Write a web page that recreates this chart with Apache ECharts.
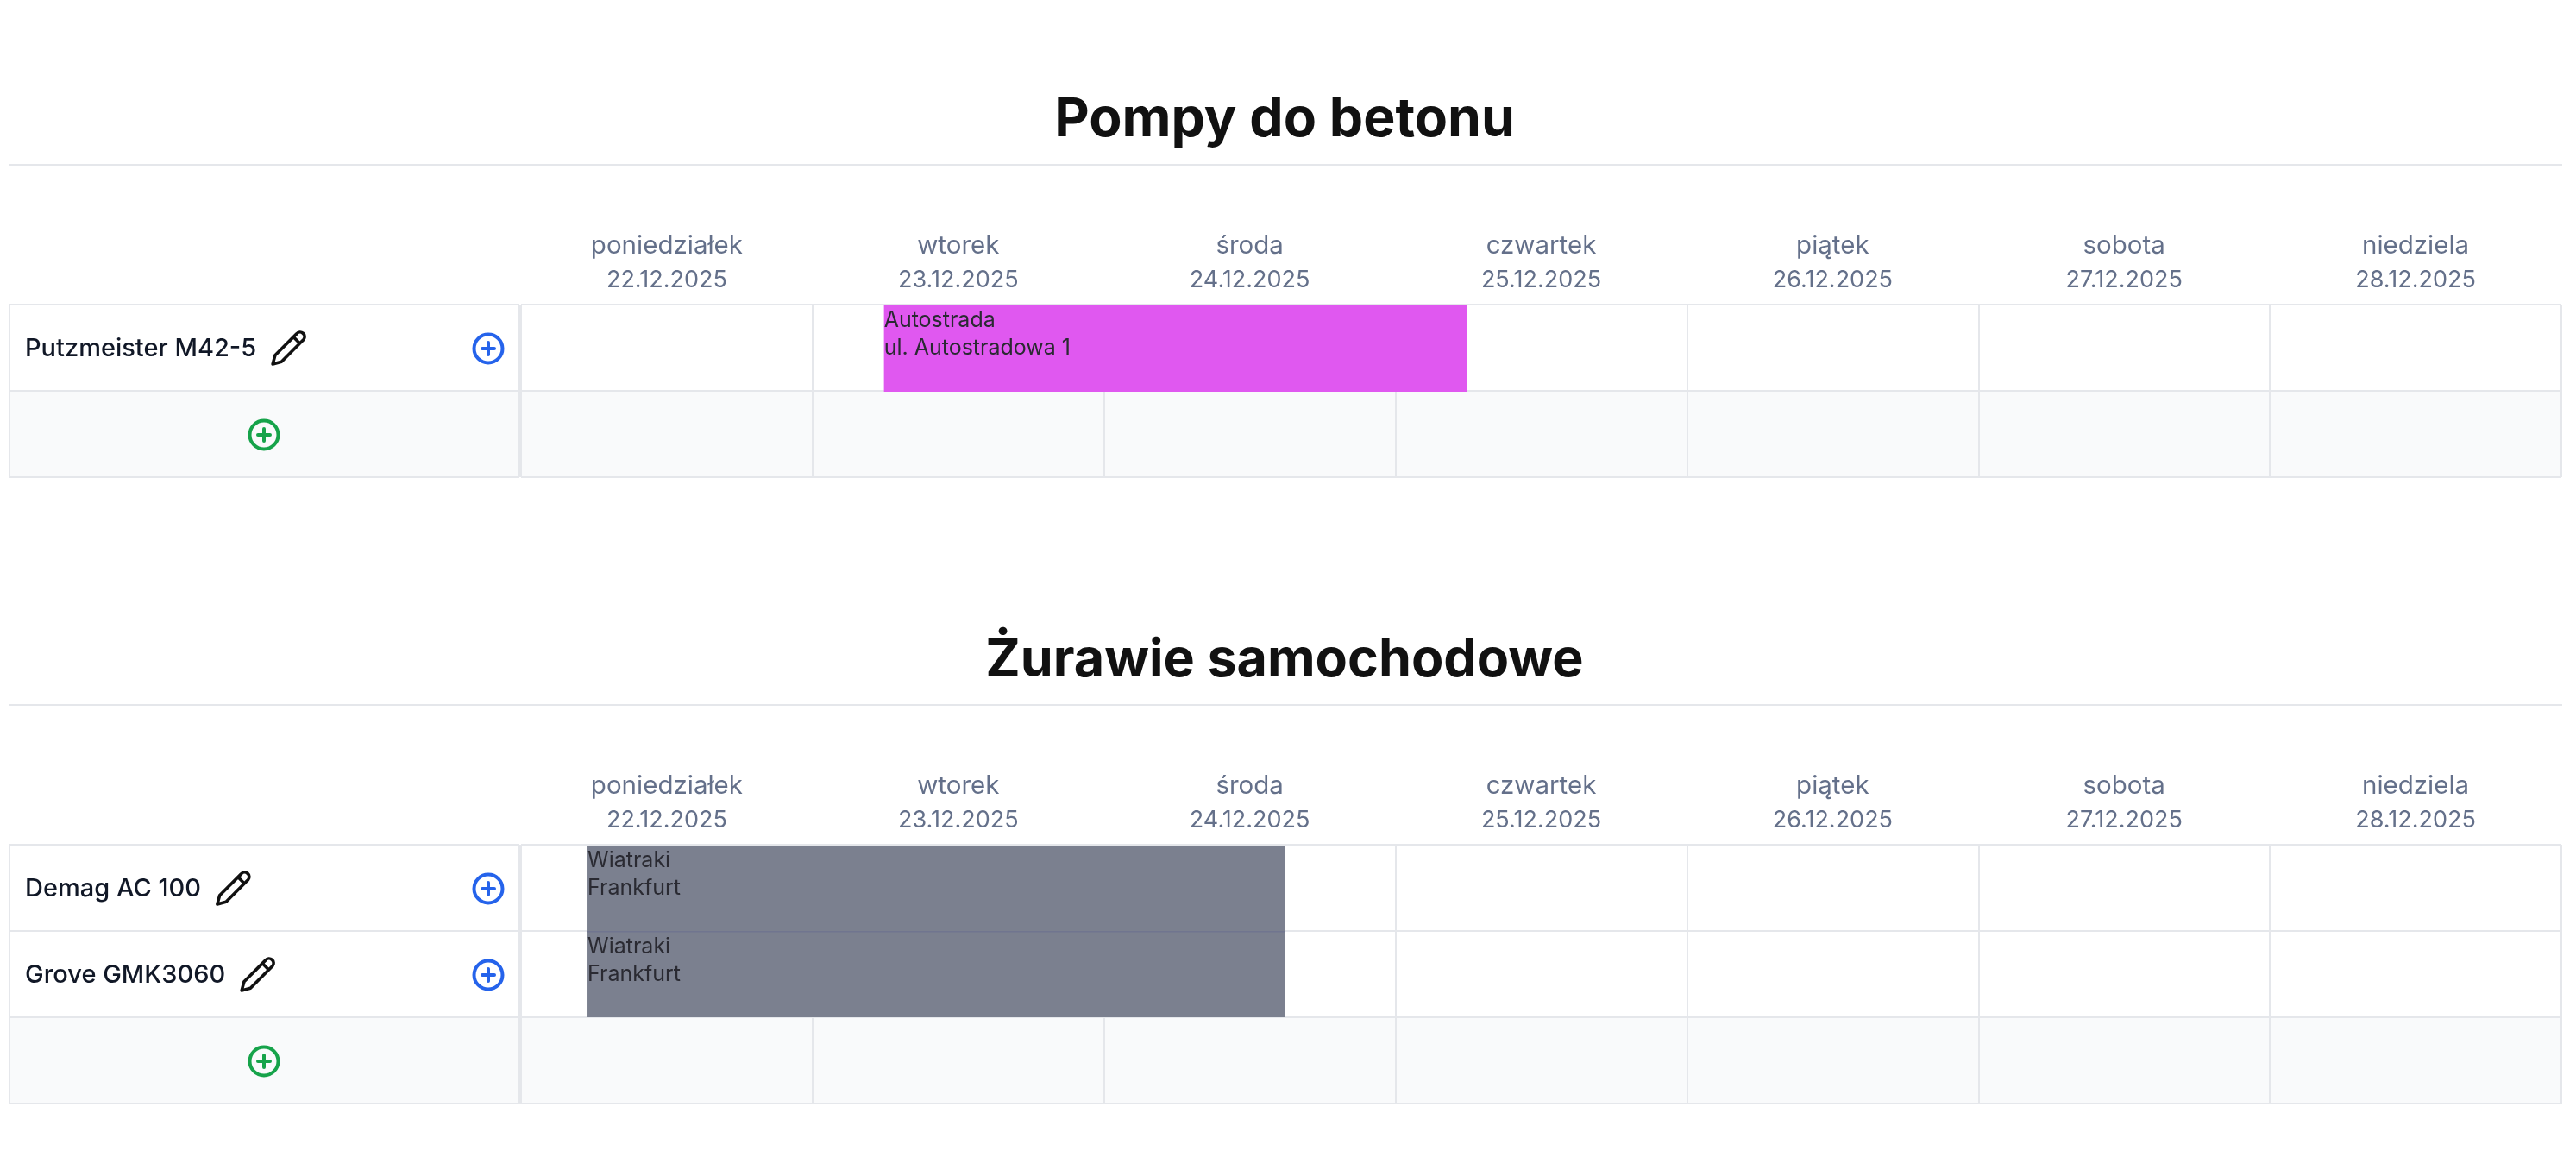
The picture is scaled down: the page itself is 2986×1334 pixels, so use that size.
<!DOCTYPE html>
<html style="height: 100%">
<head>
  <meta charset="UTF-8">
  <title>Harmonogram</title>
  <script src="https://cdn.jsdelivr.net/npm/echarts@6/dist/echarts.min.js"></script>
  <style>
    html, body { margin: 0; height: 100%; width: 100%; background: #fff; }
    #chart { width: 100%; height: 100%; }
  </style>
</head>
<body>
  <div id="chart"></div>
  <script>
    // dane
    const dayNames = ['poniedziałek', 'wtorek', 'środa', 'czwartek', 'piątek', 'sobota', 'niedziela'];
    const dayDates = ['22.12.2025', '23.12.2025', '24.12.2025', '25.12.2025', '26.12.2025', '27.12.2025', '28.12.2025'];

    const pumpTitle = 'Pompy do betonu';
    const pumpMachines = ['Putzmeister M42-5'];
    // [wiersz, początek w dniach od poniedziałku, koniec, linia 1, linia 2]
    const pumpJobs = [
      [0, 1.245, 3.245, 'Autostrada', 'ul. Autostradowa 1']
    ];

    const craneTitle = 'Żurawie samochodowe';
    const craneMachines = ['Demag AC 100', 'Grove GMK3060'];
    const craneJobs = [
      [0, 0.228, 2.62, 'Wiatraki', 'Frankfurt'],
      [1, 0.228, 2.62, 'Wiatraki', 'Frankfurt']
    ];

    const pumpColors = ['#e058f0'];
    const craneColors = ['#7b808f', '#7b808f'];

    const FONT = 'Inter, sans-serif';
    const LINE = '#e5e7eb';
    const PENCIL = 'M17 3a2.85 2.83 0 1 1 4 4L7.5 20.5 2 22l1.5-5.5Z M15 5l4 4';

    const chart = echarts.init(document.getElementById('chart'));

    const grids = [], xAxes = [], yAxes = [], series = [];

    function addSection(top, machines, jobs, colors) {
      const rows = machines.concat(['']);
      const height = rows.length * 100;
      const bands = rows.map((r, i) => (i === rows.length - 1 ? '#f9fafb' : '#ffffff'));

      // kolumna z maszynami
      const leftIdx = grids.length;
      grids.push({ left: 11, width: 591, top: top, height: height });
      xAxes.push({
        gridIndex: leftIdx, type: 'value', min: 0, max: 1, interval: 1,
        axisLine: { show: false }, axisTick: { show: false }, axisLabel: { show: false },
        splitLine: { show: true, lineStyle: { color: LINE, width: 2 } }
      });
      yAxes.push({
        gridIndex: leftIdx, type: 'category', inverse: true, data: rows,
        axisLine: { show: false }, axisTick: { show: false }, axisLabel: { show: false },
        splitLine: { show: true, lineStyle: { color: LINE, width: 2 } },
        splitArea: { show: true, areaStyle: { color: bands } }
      });
      series.push({
        type: 'custom', xAxisIndex: xAxes.length - 1, yAxisIndex: yAxes.length - 1,
        coordinateSystem: 'cartesian2d', silent: true, z: 5,
        data: rows.map((r, i) => [0, i, r]),
        renderItem: function (params, api) {
          const name = rows[params.dataIndex];
          const y = api.coord([0, params.dataIndex])[1];
          const x0 = api.coord([0, params.dataIndex])[0];
          const children = [];
          if (name) {
            const font = '500 29px ' + FONT;
            const w = echarts.format.getTextRect ? echarts.format.getTextRect(name, font).width : 268;
            children.push({ type: 'text', style: { x: x0 + 18, y: y + 1, text: name, font: font, fill: '#111827', verticalAlign: 'middle' } });
            children.push({
              type: 'path',
              shape: { pathData: PENCIL, x: x0 + 18 + w + 19, y: y - 18, width: 37, height: 37, layout: 'center' },
              style: { fill: 'none', stroke: '#111111', lineWidth: 3.6, lineJoin: 'round', lineCap: 'round' }
            });
            children.push(plus(x0 + 555, y + 1, '#2563eb'));
          } else {
            children.push(plus(x0 + 295, y + 1, '#16a34a'));
          }
          return { type: 'group', children: children };
        }
      });

      // kalendarz
      const rightIdx = grids.length;
      grids.push({ left: 604, width: 2365, top: top, height: height });
      const dayAxis = xAxes.length;
      xAxes.push({
        gridIndex: rightIdx, type: 'category', position: 'top', data: dayNames,
        axisLine: { show: false }, axisTick: { show: false }, splitLine: { show: false },
        axisLabel: {
          interval: 0, margin: 8,
          formatter: function (v, i) { return '{a|' + v + '}\n{b|' + dayDates[i] + '}'; },
          rich: {
            a: { fontFamily: FONT, fontSize: 29.5, lineHeight: 40, color: '#64708a' },
            b: { fontFamily: FONT, fontSize: 27, lineHeight: 40, color: '#64708a' }
          }
        }
      });
      const timeAxis = xAxes.length;
      xAxes.push({
        gridIndex: rightIdx, type: 'value', min: 0, max: 7, interval: 1, position: 'bottom',
        axisLine: { show: false }, axisTick: { show: false }, axisLabel: { show: false },
        splitLine: { show: true, lineStyle: { color: LINE, width: 2 } }
      });
      const rowAxis = yAxes.length;
      yAxes.push({
        gridIndex: rightIdx, type: 'category', inverse: true, data: rows,
        axisLine: { show: false }, axisTick: { show: false }, axisLabel: { show: false },
        splitLine: { show: true, lineStyle: { color: LINE, width: 2 } },
        splitArea: { show: true, areaStyle: { color: bands } }
      });
      series.push({ type: 'line', xAxisIndex: dayAxis, yAxisIndex: rowAxis, data: [], silent: true });
      series.push({
        type: 'custom', xAxisIndex: timeAxis, yAxisIndex: rowAxis, coordinateSystem: 'cartesian2d', silent: true, z: 4,
        encode: { x: [1, 2], y: 0 },
        data: jobs,
        renderItem: function (params, api) {
          const row = api.value(0);
          const start = api.coord([api.value(1), row]);
          const end = api.coord([api.value(2), row]);
          const h = api.size([0, 1])[1];
          const job = jobs[params.dataIndex];
          const top = start[1] - h / 2;
          const width = end[0] - start[0];
          const children = [
            { type: 'rect', shape: { x: start[0], y: top + (row === 0 ? 1 : 0), width: width, height: h }, style: { fill: colors[params.dataIndex] } }
          ];
          // linia siatki przebija przez pasek w kolejnych wierszach
          if (row > 0) {
            children.push({ type: 'rect', shape: { x: start[0], y: top, width: width, height: 1.5 }, style: { fill: '#70758f' } });
          }
          children.push(
            { type: 'text', style: { x: start[0], y: top + 18, text: job[3], font: '25px ' + FONT, fill: '#2a2a32', verticalAlign: 'middle' } },
            { type: 'text', style: { x: start[0], y: top + 50, text: job[4], font: '25px ' + FONT, fill: '#2a2a32', verticalAlign: 'middle' } }
          );
          return { type: 'group', children: children };
        }
      });
    }

    function plus(x, y, color) {
      return {
        type: 'group',
        children: [
          { type: 'circle', shape: { cx: x, cy: y, r: 16.5 }, style: { fill: 'none', stroke: color, lineWidth: 4 } },
          { type: 'line', shape: { x1: x - 7, y1: y, x2: x + 7, y2: y }, style: { stroke: color, lineWidth: 4, lineCap: 'round' } },
          { type: 'line', shape: { x1: x, y1: y - 7, x2: x, y2: y + 7 }, style: { stroke: color, lineWidth: 4, lineCap: 'round' } }
        ]
      };
    }

    addSection(353, pumpMachines, pumpJobs, pumpColors);
    addSection(979, craneMachines, craneJobs, craneColors);

    chart.setOption({
      animation: false,
      backgroundColor: '#ffffff',
      title: [
        { text: pumpTitle, left: 1484, textAlign: 'center', top: 103, textStyle: { fontFamily: FONT, fontSize: 62.5, fontWeight: 700, color: '#111111' } },
        { text: craneTitle, left: 1484, textAlign: 'center', top: 730, textStyle: { fontFamily: FONT, fontSize: 61, fontWeight: 700, color: '#111111' } }
      ],
      graphic: [
        { type: 'rect', shape: { x: 10, y: 190, width: 2960, height: 2 }, style: { fill: LINE } },
        { type: 'rect', shape: { x: 10, y: 816, width: 2960, height: 2 }, style: { fill: LINE } }
      ],
      grid: grids,
      xAxis: xAxes,
      yAxis: yAxes,
      series: series
    });
    window.addEventListener('resize', () => chart.resize());
  </script>
</body>
</html>
